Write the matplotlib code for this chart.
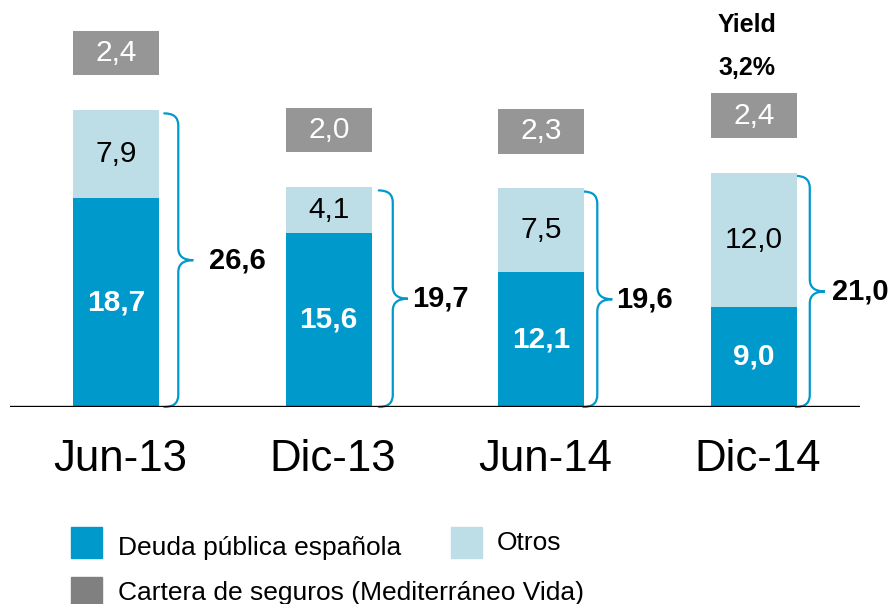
import matplotlib
matplotlib.use("Agg")
import matplotlib.pyplot as plt
from matplotlib.patches import Rectangle, PathPatch
from matplotlib.path import Path

plt.rcParams["font.family"] = ["Liberation Sans", "DejaVu Sans"]

# data
periods = ["Jun-13", "Dic-13", "Jun-14", "Dic-14"]
deuda = [18.7, 15.6, 12.1, 9.0]
otros = [7.9, 4.1, 7.5, 12.0]
totals = [26.6, 19.7, 19.6, 21.0]
seguros = [2.4, 2.0, 2.3, 2.4]
yield_label = "3,2%"

# style
DARK = "#0099CC"
LIGHT = "#BDDDE7"
GREY_BOX = "#969696"
GREY_LEG = "#808080"
W = 0.405
PX = 1 / 212.5      # data x per pixel
PY = 1 / 11.165     # data y per pixel
BOX_GAP = 3.1
BOX_H = 4.0
brace_off = [19, 21, 13, 13]      # pixels from bar edge to brace line
label_off = [50, 40, 32, 35]      # pixels from bar edge to total label


def fmt(v):
    return f"{v:.1f}".replace(".", ",")


def draw_brace(ax, xc, top, bottom):
    x1 = xc
    x0 = x1 - 14 * PX
    x2 = x1 + 15 * PX
    ry = 12 * PY
    mid = (top + bottom) / 2
    verts = [
        (x0, top), (x1, top), (x1, top - ry),
        (x1, mid + ry),
        (x1, mid), (x2, mid),
        (x1, mid), (x1, mid - ry),
        (x1, bottom + ry),
        (x1, bottom), (x0, bottom),
    ]
    codes = [
        Path.MOVETO, Path.CURVE3, Path.CURVE3,
        Path.LINETO,
        Path.CURVE3, Path.CURVE3,
        Path.CURVE3, Path.CURVE3,
        Path.LINETO,
        Path.CURVE3, Path.CURVE3,
    ]
    ax.add_patch(PathPatch(Path(verts, codes), fill=False, edgecolor=DARK,
                           lw=1.6, capstyle="round", clip_on=False))


fig = plt.figure(figsize=(8.92, 6.04), dpi=100)
ax = fig.add_axes([10 / 892, 197 / 604, 850 / 892, 407 / 604])
ax.set_xlim(-0.5, 3.5)
ax.set_ylim(0, 407 * PY)

x = list(range(len(periods)))
ax.bar(x, deuda, width=W, color=DARK, zorder=2)
ax.bar(x, otros, width=W, bottom=deuda, color=LIGHT, zorder=2)
box_bottoms = [t + BOX_GAP for t in totals]
ax.bar(x, [BOX_H] * len(x), width=W, bottom=box_bottoms, color=GREY_BOX, zorder=2)

for i in x:
    ax.text(i, deuda[i] / 2, fmt(deuda[i]), ha="center", va="center",
            fontsize=21.5, fontweight="bold", color="white", zorder=3)
    ax.text(i, deuda[i] + otros[i] / 2, fmt(otros[i]), ha="center", va="center",
            fontsize=21.5, color="black", zorder=3)
    ax.text(i, box_bottoms[i] + BOX_H / 2, fmt(seguros[i]), ha="center", va="center",
            fontsize=21.5, color="white", zorder=3)
    right = i + W / 2
    top = totals[i] - 0.3
    draw_brace(ax, right + brace_off[i] * PX, top, 0)
    ax.text(right + label_off[i] * PX, top / 2, fmt(totals[i]), ha="left", va="center",
            fontsize=21, fontweight="bold", color="black", clip_on=False)

ax.text(2.97, (407 - 25) * PY, "Yield", ha="center", va="center",
        fontsize=18, fontweight="bold")
ax.text(2.97, (407 - 68) * PY, yield_label, ha="center", va="center",
        fontsize=18, fontweight="bold")

ax.axhline(0, color="black", lw=2.4, zorder=4)
for s in ax.spines.values():
    s.set_visible(False)
ax.set_yticks([])
ax.set_xticks([i + 0.02 for i in x])
ax.set_xticklabels(periods, fontsize=31.5)
ax.tick_params(axis="x", length=0, pad=23)

# legend drawn by hand
legend_items = [
    (71, 527, DARK, 118, 548, "Deuda pública española"),
    (451, 527, LIGHT, 497, 543, "Otros"),
    (71, 577, GREY_LEG, 118, 593, "Cartera de seguros (Mediterráneo Vida)"),
]
for mx, my, col, tx, ty, label in legend_items:
    fig.patches.append(Rectangle((mx / 892, 1 - (my + 31) / 604), 31 / 892, 31 / 604,
                                 transform=fig.transFigure, color=col))
    fig.text(tx / 892, 1 - ty / 604, label, ha="left", va="center", fontsize=19)

fig.savefig("out.png", dpi=100)
